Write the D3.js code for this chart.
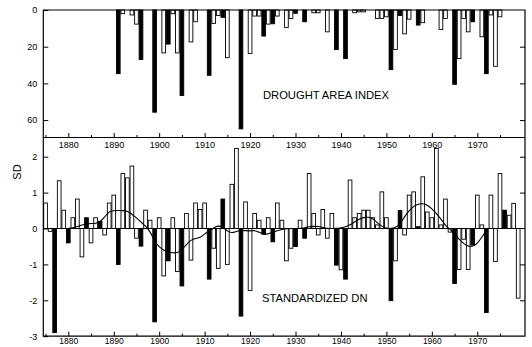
<!DOCTYPE html>
<html><head><meta charset="utf-8">
<script src="https://cdn.jsdelivr.net/npm/d3@7"></script>
<style>
body{margin:0;background:#fff}
svg{display:block}
text{font-family:"Liberation Sans",Arial,Helvetica,sans-serif;fill:#000}
</style>
</head><body>
<svg id="chart" width="532" height="347"></svg>
<script>
// ---------- DATA ----------
const dnYears = d3.range(1875, 1980);
const dnValues = [
  0.71,-0.08,-2.9,1.33,0.51,-0.4,0.3,0.82,-0.79,0.3,
  -0.4,0.3,0.2,-0.18,0.71,0.93,-1.0,1.53,1.41,1.74,
  -0.27,-0.49,0.51,0.23,-2.6,0.3,-1.32,-0.9,0.3,-1.2,
  -1.6,0.42,-0.88,0.71,0.53,0.71,-1.41,-0.55,-1.11,0.82,
  -1.0,1.23,2.23,-2.44,0.74,-1.73,0.42,0.23,-0.16,0.3,
  -0.37,0.71,0.23,-0.9,-0.55,-0.5,0.23,-0.27,1.53,0.42,
  -0.18,0.53,-0.27,0.42,-1.02,-1.15,-1.41,1.35,0.3,0.42,
  0.51,0.51,0.3,0.1,1.02,0.3,-2.01,-0.9,0.5,-0.18,
  0.93,1.02,0.05,1.44,0.46,0.3,2.23,0.1,0.82,-0.1,
  -1.53,-1.14,-0.3,-1.14,-0.46,0.93,0.1,-2.34,0.93,-0.92,
  1.53,0.51,0.37,0.7,-1.94
];
const blackYears = [1877,1880,1884,1887,1891,1896,1899,1902,1905,1911,1914,1918,1923,1925,1930,1932,1939,1941,1951,1953,1957,1965,1969,1972,1976];

const daiYears = d3.range(1891, 1980);
const daiValues = [
  34.7,2,0,2.7,7.7,27,0,0,55.7,0,
  23.4,18.6,2,23.4,46.6,0,17.4,6.4,0,0,
  35.6,7.3,3,4,26,0,0,64.8,0,23.7,
  3.3,3.3,14.2,7.7,7.5,3.3,0,9.5,4.6,1.8,
  0,6.4,0,1.5,1.5,0,11.9,0,21.6,0,
  26.5,0,1.5,1,1,0,0,4.6,4.6,3.7,
  32.5,21.5,3,13,5,0,8.2,6.9,0,0,
  0,10.6,4.6,0,40.5,26.5,4.6,11.9,6.4,0,
  14.6,34.7,2.7,30.7,3.7,0,0,0,0
];

const smoothYears = d3.range(1880, 1973);
const smoothValues = [
  0.0,0.02,0.05,0.1,0.13,0.14,0.14,0.18,0.32,0.48,
  0.5,0.5,0.5,0.49,0.4,0.3,0.18,0.07,-0.08,-0.35,
  -0.52,-0.6,-0.66,-0.68,-0.68,-0.6,-0.44,-0.32,-0.27,-0.26,
  -0.15,-0.07,0.02,0.08,0.05,-0.08,-0.13,-0.08,-0.05,-0.06,
  -0.07,-0.05,-0.1,-0.17,-0.15,-0.1,-0.06,-0.03,0.0,0.0,
  0.0,0.0,0.02,0.05,0.06,0.06,0.03,0.0,0.0,0.0,
  0.02,0.04,0.1,0.18,0.26,0.31,0.32,0.28,0.16,0.06,
  0.0,0.0,0.02,0.12,0.33,0.5,0.62,0.68,0.7,0.66,
  0.55,0.42,0.27,0.08,-0.02,-0.15,-0.3,-0.42,-0.5,-0.5,
  -0.42,-0.25,-0.05
];

const daiTicks = [0, 20, 40, 60];
const dnTicks = [-3, -2, -1, 0, 1, 2];
const yearLabelTicks = d3.range(1880, 1971, 10);
const minorYearTicks = d3.range(1875, 1981, 5);
const daiLabel = "DROUGHT AREA INDEX";
const dnLabel = "STANDARDIZED DN";
const yLabel = "SD";

// ---------- LAYOUT ----------
const svg = d3.select("#chart");
const L = 43.3, R = 525, T = 10, M = 137.5, B = 336.2;
const x = d3.scaleLinear().domain([1874.5, 1980.5]).range([L, R]);
const yTop = d3.scaleLinear().domain([0, 69.5]).range([T, M]);
const yBot = d3.scaleLinear().domain([-3, 2.535]).range([B, M]);
const bw = 3.7;
const isBlack = new Set(blackYears);

// top panel bars
const topData = daiYears.map((yr, i) => ({yr, v: daiValues[i]})).filter(d => d.v > 0);
svg.append("g").selectAll("rect").data(topData).join("rect")
  .attr("x", d => x(d.yr) - bw / 2)
  .attr("y", yTop(0))
  .attr("width", bw)
  .attr("height", d => yTop(d.v) - yTop(0))
  .attr("fill", d => isBlack.has(d.yr) ? "#000" : "#fff")
  .attr("stroke", "#000").attr("stroke-width", 0.9);

// bottom panel bars
const botData = dnYears.map((yr, i) => ({yr, v: dnValues[i]}));
svg.append("g").selectAll("rect").data(botData).join("rect")
  .attr("x", d => x(d.yr) - bw / 2)
  .attr("y", d => yBot(Math.max(0, d.v)))
  .attr("width", bw)
  .attr("height", d => Math.abs(yBot(d.v) - yBot(0)))
  .attr("fill", d => isBlack.has(d.yr) ? "#000" : "#fff")
  .attr("stroke", "#000").attr("stroke-width", 0.9);

// zero line bottom panel
svg.append("line").attr("x1", L).attr("x2", R).attr("y1", yBot(0)).attr("y2", yBot(0))
  .attr("stroke", "#000").attr("stroke-width", 1);

// smooth curve
const line = d3.line().x((d, i) => x(smoothYears[i])).y(d => yBot(d)).curve(d3.curveBasis);
svg.append("path").attr("d", line(smoothValues)).attr("fill", "none")
  .attr("stroke", "#000").attr("stroke-width", 1.1);

// frames
svg.append("path")
  .attr("d", `M${L},${T}H${R}V${B}H${L}Z M${L},${M}H${R}`)
  .attr("fill", "none").attr("stroke", "#000").attr("stroke-width", 1.2);

// axes
function clean(g) { g.select(".domain").remove(); g.selectAll("text").attr("font-size", 9).attr("font-family", "Liberation Sans, Arial, sans-serif"); }

svg.append("g").attr("transform", `translate(${L},0)`)
  .call(d3.axisLeft(yTop).tickValues(daiTicks).tickSize(-5).tickPadding(6).tickFormat(d3.format("d")))
  .call(clean);
svg.append("g").attr("transform", `translate(${R},0)`)
  .call(d3.axisRight(yTop).tickValues(daiTicks.slice(1)).tickSize(-5).tickFormat(""))
  .call(clean);
svg.append("g").attr("transform", `translate(${L},0)`)
  .call(d3.axisLeft(yBot).tickValues(dnTicks).tickSize(-5).tickPadding(6).tickFormat(d => d < 0 ? "-" + Math.abs(d) : d))
  .call(clean);
svg.append("g").attr("transform", `translate(${R},0)`)
  .call(d3.axisRight(yBot).tickValues(dnTicks.filter(d => d !== 0 && d !== -3)).tickSize(-5).tickFormat(""))
  .call(clean);

// middle axis (ticks up into top panel, labels below)
svg.append("g").attr("transform", `translate(0,${M})`)
  .call(d3.axisBottom(x).tickValues(minorYearTicks.filter(d => d % 10 === 5)).tickSize(-2.5).tickFormat(""))
  .call(clean);
svg.append("g").attr("transform", `translate(0,${M})`)
  .call(d3.axisBottom(x).tickValues(yearLabelTicks).tickSize(-4.5).tickPadding(4).tickFormat(d3.format("d")))
  .call(clean);
// bottom axis
svg.append("g").attr("transform", `translate(0,${B})`)
  .call(d3.axisBottom(x).tickValues(minorYearTicks.filter(d => d % 10 === 5)).tickSize(-2.5).tickFormat(""))
  .call(clean);
svg.append("g").attr("transform", `translate(0,${B})`)
  .call(d3.axisBottom(x).tickValues(yearLabelTicks).tickSize(-4.5).tickPadding(2).tickFormat(d3.format("d")))
  .call(clean)
  .call(g => g.selectAll("text").attr("font-size", 8.5));

// labels
svg.append("text").attr("x", 263).attr("y", 98.5).attr("font-size", 11.2).text(daiLabel);
svg.append("text").attr("x", 262).attr("y", 302).attr("font-size", 11.2).text(dnLabel);
svg.append("text").attr("transform", "translate(21,172) rotate(-90)").attr("text-anchor", "middle")
  .attr("font-size", 11).text(yLabel);
</script>
</body></html>
